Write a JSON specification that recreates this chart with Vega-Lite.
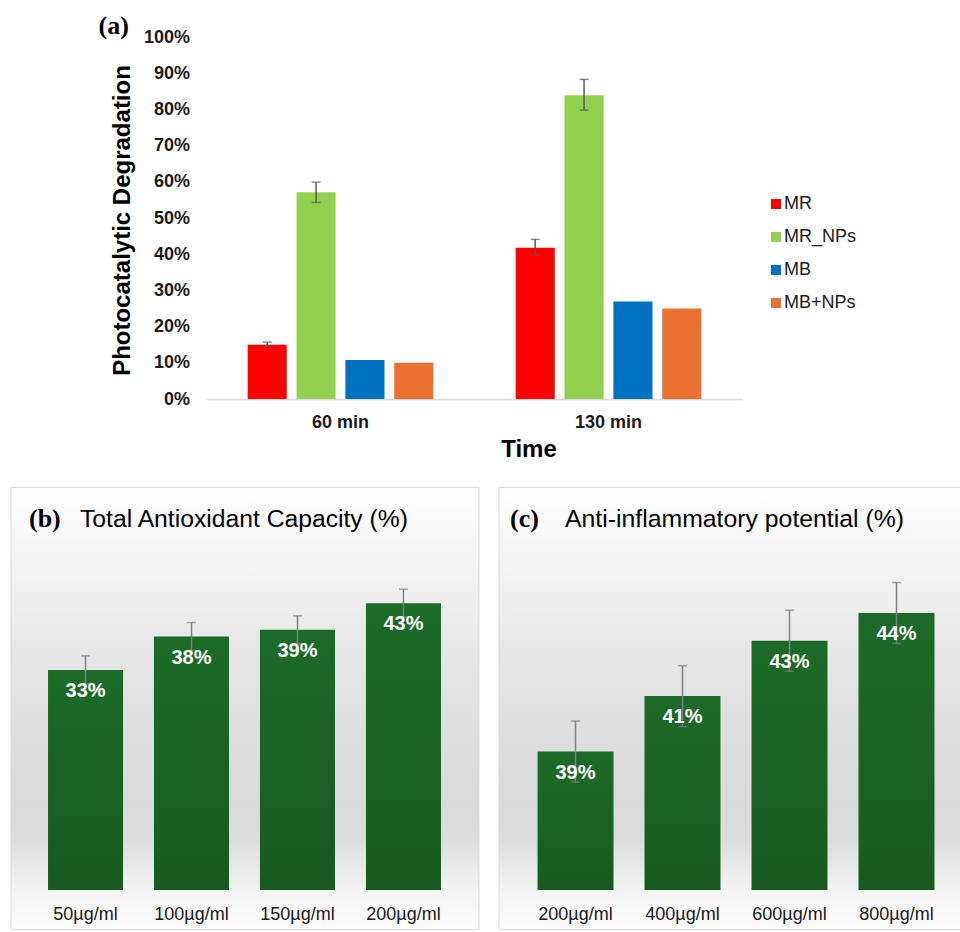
{
  "$schema": "https://vega.github.io/schema/vega-lite/v6.json",
  "background": "white",
  "padding": {"left": 9.5, "top": 13, "right": 0, "bottom": 0},
  "datasets": {
    "deg": [
      {"time": "60 min", "sample": "MR", "value": 0.15, "low": 0.143, "high": 0.157},
      {"time": "60 min", "sample": "MR_NPs", "value": 0.571, "low": 0.543, "high": 0.599},
      {"time": "60 min", "sample": "MB", "value": 0.108, "low": null, "high": null},
      {"time": "60 min", "sample": "MB+NPs", "value": 0.10, "low": null, "high": null},
      {"time": "130 min", "sample": "MR", "value": 0.418, "low": 0.399, "high": 0.441},
      {"time": "130 min", "sample": "MR_NPs", "value": 0.839, "low": 0.798, "high": 0.883},
      {"time": "130 min", "sample": "MB", "value": 0.269, "low": null, "high": null},
      {"time": "130 min", "sample": "MB+NPs", "value": 0.25, "low": null, "high": null}
    ],
    "tac": [
      {"conc": "50µg/ml", "value": 0.33, "low": 0.309, "high": 0.351},
      {"conc": "100µg/ml", "value": 0.38, "low": 0.359, "high": 0.401},
      {"conc": "150µg/ml", "value": 0.39, "low": 0.369, "high": 0.411},
      {"conc": "200µg/ml", "value": 0.43, "low": 0.409, "high": 0.451}
    ],
    "antiinf": [
      {"conc": "200µg/ml", "value": 0.39, "low": 0.379, "high": 0.401},
      {"conc": "400µg/ml", "value": 0.41, "low": 0.399, "high": 0.421},
      {"conc": "600µg/ml", "value": 0.43, "low": 0.419, "high": 0.441},
      {"conc": "800µg/ml", "value": 0.44, "low": 0.429, "high": 0.451}
    ]
  },
  "spacing": 25,
  "vconcat": [
    {
      "spacing": 0,
      "hconcat": [
        {
          "width": 87.5,
          "height": 10,
          "data": {"values": []},
          "mark": "point",
          "view": {"stroke": "transparent"}
        },
        {
          "width": 536,
          "height": 362,
          "data": {"name": "deg"},
          "title": {
            "text": "(a)",
            "anchor": "start",
            "frame": "group",
            "dx": -108,
            "offset": -32,
            "baseline": "alphabetic",
            "font": "Liberation Serif",
            "fontSize": 26,
            "fontWeight": "bold",
            "color": "#000000"
          },
          "resolve": {"scale": {"y": "shared"}, "axis": {"y": "independent"}},
          "encoding": {
            "x": {
              "field": "time",
              "type": "nominal",
              "sort": ["60 min", "130 min"],
              "scale": {"paddingInner": 0.3, "paddingOuter": 0.15},
              "axis": {
                "labelAngle": 0,
                "labelFont": "Liberation Sans",
                "labelFontSize": 18,
                "labelFontWeight": "bold",
                "labelColor": "#1a1a1a",
                "labelPadding": 14,
                "ticks": false,
                "domainColor": "#d9d9d9",
                "domainWidth": 1.5,
                "grid": false,
                "title": "Time",
                "titleFont": "Liberation Sans",
                "titleFontSize": 24,
                "titleFontWeight": "bold",
                "titleColor": "#000000",
                "titleX": 322,
                "titleY": 57,
                "titleBaseline": "alphabetic"
              }
            },
            "xOffset": {
              "field": "sample",
              "type": "nominal",
              "scale": {"domain": ["MR", "MR_NPs", "MB", "MB+NPs"], "paddingInner": 0.2, "paddingOuter": 0.02}
            }
          },
          "layer": [
            {
              "mark": {"type": "bar"},
              "encoding": {
                "y": {
                  "field": "value",
                  "type": "quantitative",
                  "title": "Photocatalytic Degradation",
                  "scale": {"domain": [0, 1], "nice": false},
                  "axis": {
                    "values": [0, 0.1, 0.2, 0.3, 0.4, 0.5, 0.6, 0.7, 0.8, 0.9, 1],
                    "format": ".0%",
                    "labelOverlap": false,
                    "labelFont": "Liberation Sans",
                    "labelFontSize": 18,
                    "labelFontWeight": "bold",
                    "labelColor": "#1a1a1a",
                    "labelPadding": 17,
                    "ticks": false,
                    "domain": false,
                    "grid": false,
                    "titleFont": "Liberation Sans",
                    "titleFontSize": 24,
                    "titleFontWeight": "bold",
                    "titleColor": "#000000",
                    "titleX": -77,
                    "titleY": 183,
                    "titleAngle": -90,
                    "titleAlign": "center",
                    "titleBaseline": "alphabetic"
                  }
                },
                "color": {
                  "field": "sample",
                  "type": "nominal",
                  "scale": {
                    "domain": ["MR", "MR_NPs", "MB", "MB+NPs"],
                    "range": ["#ff0000", "#92d050", "#0070c0", "#e97132"]
                  },
                  "legend": {
                    "orient": "none",
                    "legendX": 756.5,
                    "legendY": 158,
                    "title": null,
                    "symbolType": "square",
                    "symbolSize": 100,
                    "symbolStrokeWidth": 0,
                    "labelFont": "Liberation Sans",
                    "labelFontSize": 18,
                    "labelColor": "#1a1a1a",
                    "labelOffset": -1,
                    "rowPadding": 15,
                    "padding": 0
                  }
                }
              }
            },
            {
              "transform": [{"filter": "isValid(datum.low)"}],
              "mark": {
                "type": "errorbar",
                "ticks": {"size": 9, "color": "#595959", "thickness": 1.5},
                "rule": {"color": "#595959", "strokeWidth": 1.5}
              },
              "encoding": {
                "y": {"field": "low", "type": "quantitative", "axis": null},
                "y2": {"field": "high"}
              }
            }
          ]
        }
      ]
    },
    {
      "spacing": 18,
      "hconcat": [
        {
          "width": 468,
          "height": 442,
          "data": {"name": "tac"},
          "view": {
            "stroke": "#d9d9d9",
            "strokeWidth": 1,
            "fill": {
              "gradient": "linear", "x1": 0, "y1": 0, "x2": 0, "y2": 1,
              "stops": [
                {"offset": 0, "color": "#ffffff"},
                {"offset": 0.16, "color": "#f4f4f4"},
                {"offset": 0.34, "color": "#e8e8e8"},
                {"offset": 0.5, "color": "#e0e0e0"},
                {"offset": 0.72, "color": "#d9d9d9"},
                {"offset": 0.8, "color": "#dddddd"},
                {"offset": 0.86, "color": "#e9e9e9"},
                {"offset": 0.92, "color": "#f5f5f5"},
                {"offset": 1, "color": "#fcfcfc"}
              ]
            }
          },
          "encoding": {
            "x": {
              "field": "conc",
              "type": "nominal",
              "sort": ["50µg/ml", "100µg/ml", "150µg/ml", "200µg/ml"],
              "scale": {"paddingInner": 0.292, "paddingOuter": 0.354},
              "axis": {
                "offset": -39,
                "domain": false,
                "ticks": false,
                "grid": false,
                "labelAngle": 0,
                "labelFont": "Liberation Sans",
                "labelFontSize": 18,
                "labelColor": "#1a1a1a",
                "labelPadding": 15,
                "title": "(b)",
                "titleFont": "Liberation Serif",
                "titleFontSize": 26,
                "titleFontWeight": "bold",
                "titleColor": "#000000",
                "titleX": 18,
                "titleY": -364,
                "titleAlign": "left",
                "titleBaseline": "alphabetic"
              }
            }
          },
          "layer": [
            {
              "mark": {
                "type": "bar",
                "color": {
                  "gradient": "linear", "x1": 0, "y1": 0, "x2": 0, "y2": 1,
                  "stops": [{"offset": 0, "color": "#1c6b28"}, {"offset": 1, "color": "#175a21"}]
                }
              },
              "encoding": {
                "y": {
                  "field": "value",
                  "type": "quantitative",
                  "title": "Total Antioxidant Capacity (%)",
                  "scale": {"domain": [-0.0585, 0.6042], "nice": false, "zero": false},
                  "axis": {
                    "labels": false,
                    "ticks": false,
                    "domain": false,
                    "grid": false,
                    "titleFont": "Liberation Sans",
                    "titleFontSize": 24.7,
                    "titleFontWeight": "normal",
                    "titleColor": "#000000",
                    "titleAngle": 0,
                    "titleX": 69,
                    "titleY": 39,
                    "titleAlign": "left",
                    "titleBaseline": "alphabetic"
                  }
                },
                "y2": {"datum": 0}
              }
            },
            {
              "mark": {
                "type": "errorbar",
                "ticks": {"size": 9, "color": "#808080", "thickness": 1.5},
                "rule": {"color": "#808080", "strokeWidth": 1.5}
              },
              "encoding": {
                "y": {"field": "low", "type": "quantitative", "title": "Total Antioxidant Capacity (%)"},
                "y2": {"field": "high"}
              }
            },
            {
              "mark": {"type": "text", "color": "#ffffff", "font": "Liberation Sans", "fontSize": 20, "fontWeight": "bold", "baseline": "middle", "dy": 21},
              "encoding": {
                "y": {"field": "value", "type": "quantitative", "title": "Total Antioxidant Capacity (%)"},
                "text": {"field": "value", "type": "quantitative", "format": ".0%"}
              }
            }
          ]
        },
        {
          "width": 462,
          "height": 442,
          "data": {"name": "antiinf"},
          "view": {
            "stroke": "#d9d9d9",
            "strokeWidth": 1,
            "fill": {
              "gradient": "linear", "x1": 0, "y1": 0, "x2": 0, "y2": 1,
              "stops": [
                {"offset": 0, "color": "#ffffff"},
                {"offset": 0.16, "color": "#f4f4f4"},
                {"offset": 0.34, "color": "#e8e8e8"},
                {"offset": 0.5, "color": "#e0e0e0"},
                {"offset": 0.72, "color": "#d9d9d9"},
                {"offset": 0.8, "color": "#dddddd"},
                {"offset": 0.86, "color": "#e9e9e9"},
                {"offset": 0.92, "color": "#f5f5f5"},
                {"offset": 1, "color": "#fcfcfc"}
              ]
            }
          },
          "encoding": {
            "x": {
              "field": "conc",
              "type": "nominal",
              "sort": ["200µg/ml", "400µg/ml", "600µg/ml", "800µg/ml"],
              "scale": {"paddingInner": 0.29, "paddingOuter": 0.304, "align": 0.6},
              "axis": {
                "offset": -39,
                "domain": false,
                "ticks": false,
                "grid": false,
                "labelAngle": 0,
                "labelFont": "Liberation Sans",
                "labelFontSize": 18,
                "labelColor": "#1a1a1a",
                "labelPadding": 15,
                "title": "(c)",
                "titleFont": "Liberation Serif",
                "titleFontSize": 26,
                "titleFontWeight": "bold",
                "titleColor": "#000000",
                "titleX": 11,
                "titleY": -364,
                "titleAlign": "left",
                "titleBaseline": "alphabetic"
              }
            }
          },
          "layer": [
            {
              "mark": {
                "type": "bar",
                "color": {
                  "gradient": "linear", "x1": 0, "y1": 0, "x2": 0, "y2": 1,
                  "stops": [{"offset": 0, "color": "#1c6b28"}, {"offset": 1, "color": "#175a21"}]
                }
              },
              "encoding": {
                "y": {
                  "field": "value",
                  "type": "quantitative",
                  "title": "Anti-inflammatory potential (%)",
                  "scale": {"domain": [0.32592, 0.48549], "nice": false, "zero": false},
                  "axis": {
                    "labels": false,
                    "ticks": false,
                    "domain": false,
                    "grid": false,
                    "titleFont": "Liberation Sans",
                    "titleFontSize": 24.8,
                    "titleFontWeight": "normal",
                    "titleColor": "#000000",
                    "titleAngle": 0,
                    "titleX": 66,
                    "titleY": 39,
                    "titleAlign": "left",
                    "titleBaseline": "alphabetic"
                  }
                },
                "y2": {"datum": 0.34}
              }
            },
            {
              "mark": {
                "type": "errorbar",
                "ticks": {"size": 9, "color": "#808080", "thickness": 1.5},
                "rule": {"color": "#808080", "strokeWidth": 1.5}
              },
              "encoding": {
                "y": {"field": "low", "type": "quantitative", "title": "Anti-inflammatory potential (%)"},
                "y2": {"field": "high"}
              }
            },
            {
              "mark": {"type": "text", "color": "#ffffff", "font": "Liberation Sans", "fontSize": 20, "fontWeight": "bold", "baseline": "middle", "dy": 21},
              "encoding": {
                "y": {"field": "value", "type": "quantitative", "title": "Anti-inflammatory potential (%)"},
                "text": {"field": "value", "type": "quantitative", "format": ".0%"}
              }
            }
          ]
        }
      ]
    }
  ],
  "config": {
    "font": "Liberation Sans",
    "view": {"stroke": null}
  }
}
